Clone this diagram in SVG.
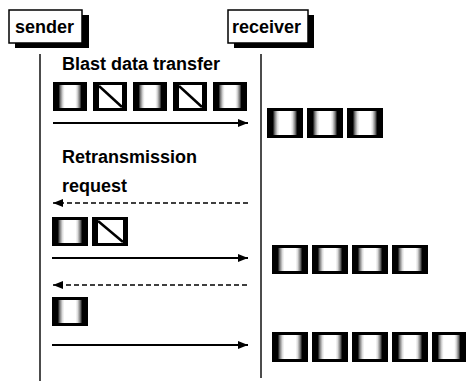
<svg xmlns="http://www.w3.org/2000/svg" width="467" height="381" viewBox="0 0 467 381">
<defs>
<style>
.lbl{font-family:"Liberation Sans",Arial,sans-serif;font-weight:bold;font-size:18px;fill:#000}
.box{fill:#fff;stroke:#000;stroke-width:1.5}
.shadow{fill:#000}
.life{stroke:#111;stroke-width:1.5;fill:none}
.msg{stroke:#000;stroke-width:2;fill:none}
.dash{stroke:#000;stroke-width:1.6;stroke-dasharray:5 3;fill:none}
.pkt{fill:url(#pg);stroke:#000;stroke-width:3}
.pkts{fill:url(#ps);stroke:#000;stroke-width:3}
.slash{stroke:#000;stroke-width:2.5}
</style>
<linearGradient id="pg" x1="0" y1="0" x2="1" y2="0">
<stop offset="0" stop-color="#000"/>
<stop offset="0.13" stop-color="#000"/>
<stop offset="0.19" stop-color="#777"/>
<stop offset="0.27" stop-color="#ddd"/>
<stop offset="0.33" stop-color="#fff"/>
<stop offset="0.67" stop-color="#fff"/>
<stop offset="0.73" stop-color="#ddd"/>
<stop offset="0.81" stop-color="#777"/>
<stop offset="0.87" stop-color="#000"/>
<stop offset="1" stop-color="#000"/>
</linearGradient>
<linearGradient id="ps" x1="0" y1="0" x2="1" y2="0">
<stop offset="0" stop-color="#000"/>
<stop offset="0.14" stop-color="#000"/>
<stop offset="0.15" stop-color="#fff"/>
<stop offset="0.88" stop-color="#fff"/>
<stop offset="0.89" stop-color="#000"/>
<stop offset="1" stop-color="#000"/>
</linearGradient>
<marker id="ah" markerUnits="userSpaceOnUse" markerWidth="12" markerHeight="10" refX="10" refY="5" orient="auto">
<path d="M0,1 L10,5 L0,9 Z" fill="#000"/>
</marker>
</defs>
<rect width="467" height="381" fill="#fff"/>

<g id="sender">
<rect class="shadow" x="15" y="15" width="74" height="33"/>
<rect class="box" x="9" y="10" width="73" height="33"/>
<text class="lbl" x="15" y="33">sender</text>
</g>
<g id="receiver">
<rect class="shadow" x="234" y="15" width="80" height="33"/>
<rect class="box" x="228" y="10" width="80" height="33"/>
<text class="lbl" x="232" y="33">receiver</text>
</g>

<g id="lifelines">
<line class="life" x1="40" y1="54" x2="40" y2="381"/>
<line class="life" x1="261" y1="54" x2="261" y2="378"/>
</g>

<g id="labels">
<text class="lbl" x="62" y="70">Blast data transfer</text>
<text class="lbl" x="62" y="163">Retransmission</text>
<text class="lbl" x="62" y="192">request</text>
</g>

<g id="connectors">
<line class="msg" x1="53" y1="123" x2="248" y2="123" marker-end="url(#ah)"/>
<line class="dash" x1="248" y1="203" x2="53" y2="203" marker-end="url(#ah)"/>
<line class="msg" x1="52" y1="258" x2="248" y2="258" marker-end="url(#ah)"/>
<line class="dash" x1="247" y1="285" x2="53" y2="285" marker-end="url(#ah)"/>
<line class="msg" x1="52" y1="345" x2="248" y2="345" marker-end="url(#ah)"/>
</g>

<g id="sent-blast">
<rect class="pkt" x="54.5" y="83.5" width="31" height="26"/>
<rect class="pkts" x="94.5" y="83.5" width="31" height="26"/>
<line class="slash" x1="99" y1="86" x2="122" y2="107"/>
<rect class="pkt" x="134.5" y="83.5" width="31" height="26"/>
<rect class="pkts" x="174.5" y="83.5" width="31" height="26"/>
<line class="slash" x1="179" y1="86" x2="202" y2="107"/>
<rect class="pkt" x="214.5" y="83.5" width="31" height="26"/>
</g>
<g id="received-1">
<rect class="pkt" x="268.5" y="109.5" width="33" height="27"/>
<rect class="pkt" x="308.5" y="109.5" width="33" height="27"/>
<rect class="pkt" x="348.5" y="109.5" width="33" height="27"/>
</g>
<g id="sent-retrans-1">
<rect class="pkt" x="53.5" y="218.5" width="33" height="26"/>
<rect class="pkts" x="93.5" y="218.5" width="33" height="26"/>
<line class="slash" x1="98" y1="221" x2="123" y2="242"/>
</g>
<g id="received-2">
<rect class="pkt" x="273.5" y="246.5" width="33" height="26"/>
<rect class="pkt" x="313.5" y="246.5" width="33" height="26"/>
<rect class="pkt" x="353.5" y="246.5" width="33" height="26"/>
<rect class="pkt" x="393.5" y="246.5" width="33" height="26"/>
</g>
<g id="sent-retrans-2">
<rect class="pkt" x="53.5" y="298.5" width="33" height="26"/>
</g>
<g id="received-3">
<rect class="pkt" x="273.5" y="333.5" width="33" height="27"/>
<rect class="pkt" x="313.5" y="333.5" width="33" height="27"/>
<rect class="pkt" x="353.5" y="333.5" width="33" height="27"/>
<rect class="pkt" x="393.5" y="333.5" width="33" height="27"/>
<rect class="pkt" x="433.5" y="333.5" width="31" height="27"/>
</g>
</svg>
